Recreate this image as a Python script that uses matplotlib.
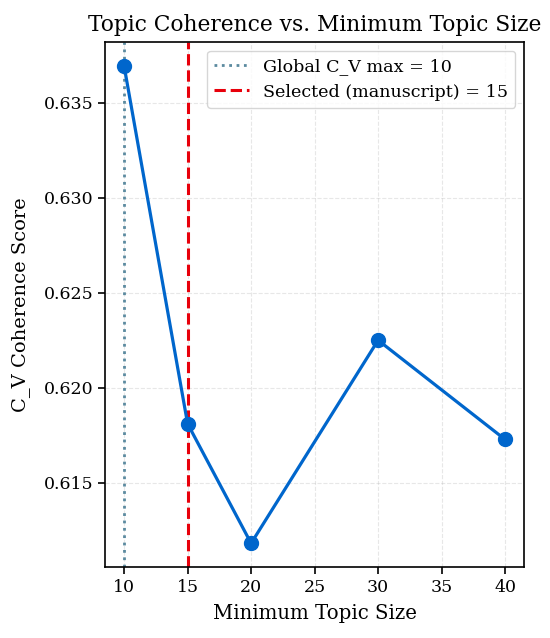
import matplotlib
matplotlib.use("Agg")
import matplotlib.pyplot as plt

min_topic_size = [10, 15, 20, 30, 40]
cv_scores = [0.63695, 0.6181, 0.6118, 0.6225, 0.61727]
global_max_x = 10
selected_x = 15

plt.rcParams['font.family'] = ['DejaVu Serif']

fig, ax = plt.subplots(figsize=(5.5, 6.38), dpi=100)
ax.plot(min_topic_size, cv_scores, '-o', color='#0066cc', linewidth=2.3, markersize=10, zorder=3)
ax.axvline(global_max_x, color='#5b8a9f', linestyle=':', linewidth=2, label=f'Global C_V max = {global_max_x}')
ax.axvline(selected_x, color='#e8000b', linestyle='--', linewidth=2.2, label=f'Selected (manuscript) = {selected_x}')
ax.set_xticks([10, 15, 20, 25, 30, 35, 40])
ax.set_yticks([0.615, 0.620, 0.625, 0.630, 0.635])
ax.grid(True, linestyle='--', alpha=0.3)
ax.set_xlabel('Minimum Topic Size', fontsize=14.2, labelpad=6)
ax.set_ylabel('C_V Coherence Score', fontsize=14, labelpad=10)
ax.set_title('Topic Coherence vs. Minimum Topic Size', fontsize=15.7, pad=8)
ax.legend(loc='upper right', fontsize=12.6)
ax.tick_params(labelsize=12.5, width=1.2, length=5)
for s in ax.spines.values():
    s.set_linewidth(1.2)
fig.subplots_adjust(left=0.191, right=0.953, top=0.934, bottom=0.111)
fig.savefig('out.png', dpi=100)
